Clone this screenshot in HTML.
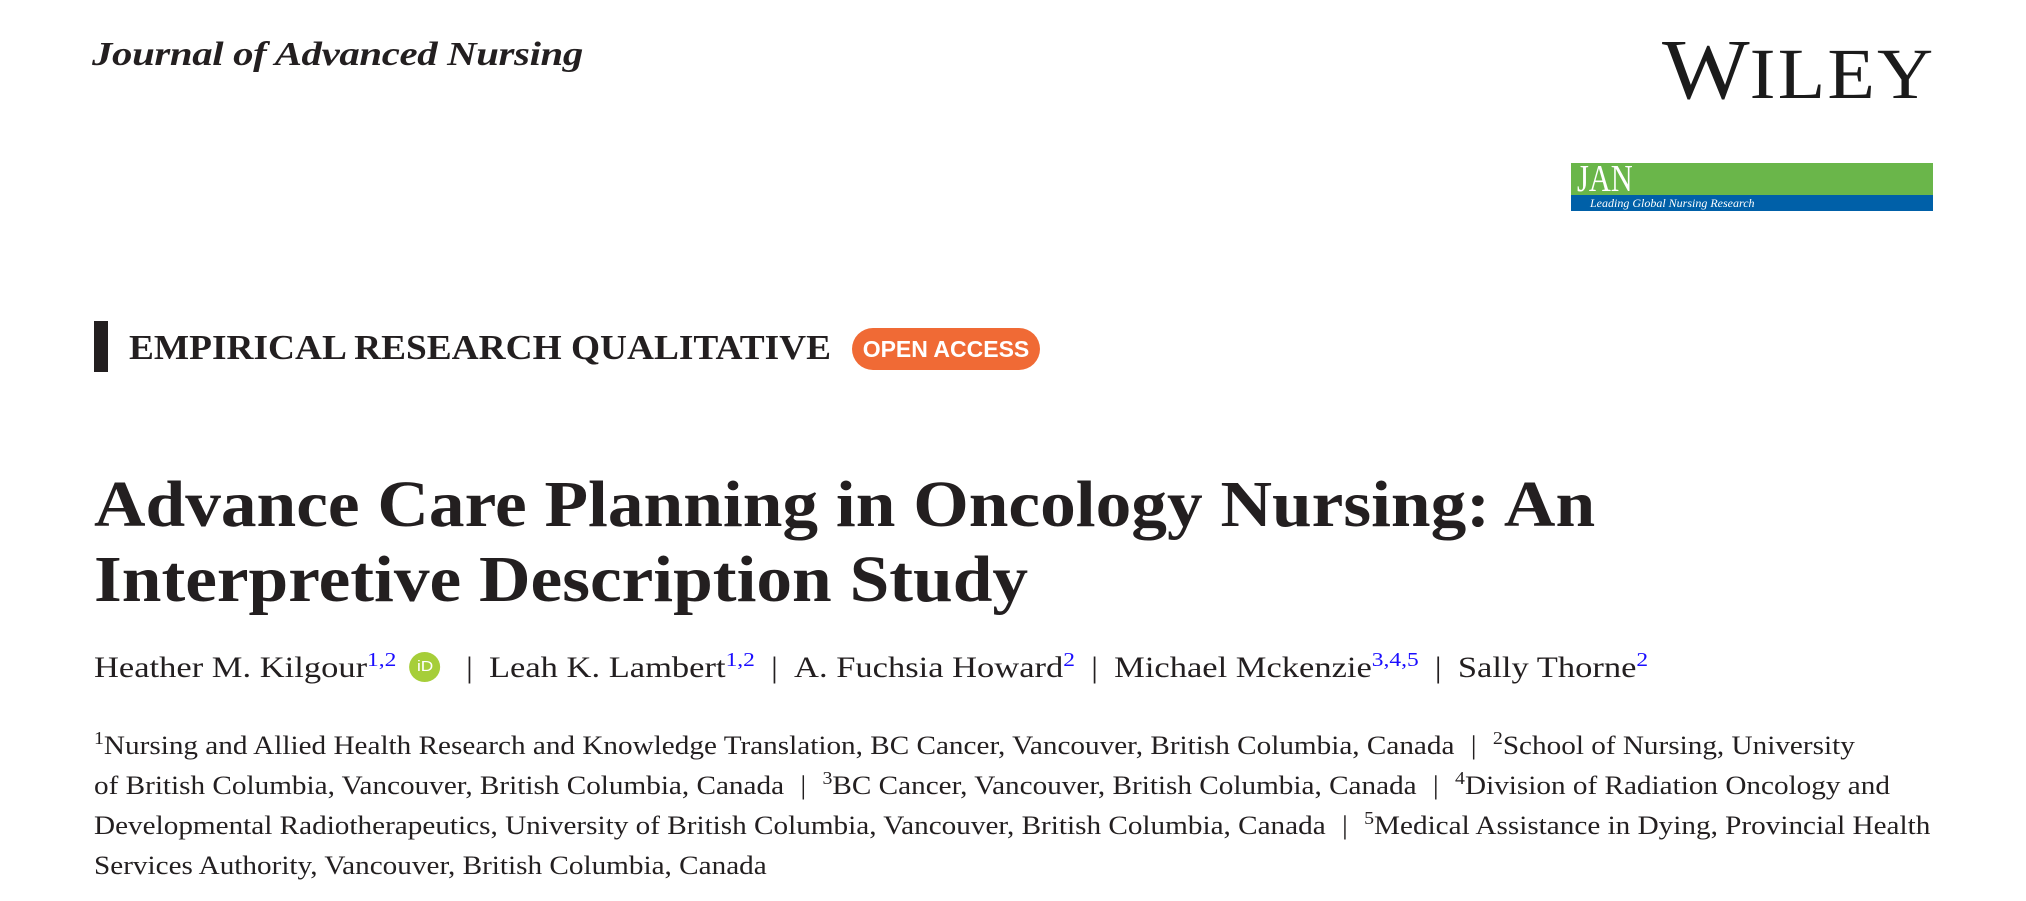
<!DOCTYPE html>
<html><head><meta charset="utf-8"><style>
html,body{margin:0;padding:0;background:#fff;}
body{width:2026px;height:901px;position:relative;overflow:hidden;font-family:"Liberation Serif",serif;color:#231f20;}
.a{position:absolute;white-space:nowrap;transform-origin:0 0;}
sup{color:#1a0dff;font-size:0.68em;vertical-align:0;position:relative;top:-0.55em;}
.sep{color:#231f20;margin:0 14px;}
</style></head><body>
<div class="a" style="left:92px;top:38px;font-size:34px;line-height:34px;font-weight:bold;font-style:italic;letter-spacing:-0.3px;transform:scaleX(1.2);">Journal of Advanced Nursing</div>
<div class="a" style="left:1662px;top:26px;line-height:86px;font-size:86px;transform:scaleX(1.08);color:#1b1b1b;">W<span style="font-size:72px;letter-spacing:2px;">ILEY</span></div>
<div class="a" style="left:1571px;top:163px;width:362px;height:32px;background:#6ab64a;"></div>
<div class="a" style="left:1571px;top:195px;width:362px;height:16px;background:#0060a8;"></div>
<div class="a" style="left:1577px;top:160px;font-size:38px;line-height:38px;color:#fff;transform:scaleX(0.8);">JAN</div>
<div class="a" style="left:1590px;top:196px;font-size:12px;line-height:14px;color:#fff;font-style:italic;">Leading Global Nursing Research</div>
<div class="a" style="left:94px;top:321px;width:14px;height:51px;background:#231f20;"></div>
<div class="a" style="left:129px;top:330px;font-size:35px;line-height:35px;font-weight:bold;transform:scaleX(1.067);">EMPIRICAL RESEARCH QUALITATIVE</div>
<div class="a" style="left:852px;top:328px;width:188px;height:42px;border-radius:21px;background:#f06a35;color:#fff;font-family:'Liberation Sans',sans-serif;font-weight:bold;font-size:23px;line-height:42px;text-align:center;">OPEN ACCESS</div>
<div class="a" style="left:94px;top:472px;font-size:66px;line-height:66px;font-weight:bold;transform:scaleX(1.081);">Advance Care Planning in Oncology Nursing: An</div>
<div class="a" style="left:94px;top:547px;font-size:66px;line-height:66px;font-weight:bold;transform:scaleX(1.081);">Interpretive Description Study</div>
<div class="a" style="left:94px;top:652px;font-size:30px;line-height:30px;transform:scaleX(1.15);">Heather M. Kilgour<sup>1,2</sup> <span style="display:inline-block;width:27px;height:30px;border-radius:50%;background:#a6ce39;color:#fff;font-family:'Liberation Sans',sans-serif;font-size:15px;line-height:30px;text-align:center;vertical-align:6px;margin-left:4px;">iD</span><span class="sep" style="margin-left:22px;">|</span>Leah K. Lambert<sup>1,2</sup><span class="sep">|</span>A. Fuchsia Howard<sup>2</sup><span class="sep">|</span>Michael Mckenzie<sup>3,4,5</sup><span class="sep">|</span>Sally Thorne<sup>2</sup></div>
<div class="a" style="left:94px;top:733px;font-size:26px;line-height:26px;transform:scaleX(1.123);"><sup style="color:#231f20">1</sup>Nursing and Allied Health Research and Knowledge Translation, BC Cancer, Vancouver, British Columbia, Canada <span class="sep" style="margin:0 8px">|</span> <sup style="color:#231f20">2</sup>School of Nursing, University</div>
<div class="a" style="left:94px;top:773px;font-size:26px;line-height:26px;transform:scaleX(1.123);">of British Columbia, Vancouver, British Columbia, Canada <span class="sep" style="margin:0 8px">|</span> <sup style="color:#231f20">3</sup>BC Cancer, Vancouver, British Columbia, Canada <span class="sep" style="margin:0 8px">|</span> <sup style="color:#231f20">4</sup>Division of Radiation Oncology and</div>
<div class="a" style="left:94px;top:813px;font-size:26px;line-height:26px;transform:scaleX(1.123);">Developmental Radiotherapeutics, University of British Columbia, Vancouver, British Columbia, Canada <span class="sep" style="margin:0 8px">|</span> <sup style="color:#231f20">5</sup>Medical Assistance in Dying, Provincial Health</div>
<div class="a" style="left:94px;top:853px;font-size:26px;line-height:26px;transform:scaleX(1.123);">Services Authority, Vancouver, British Columbia, Canada</div>
</body></html>
